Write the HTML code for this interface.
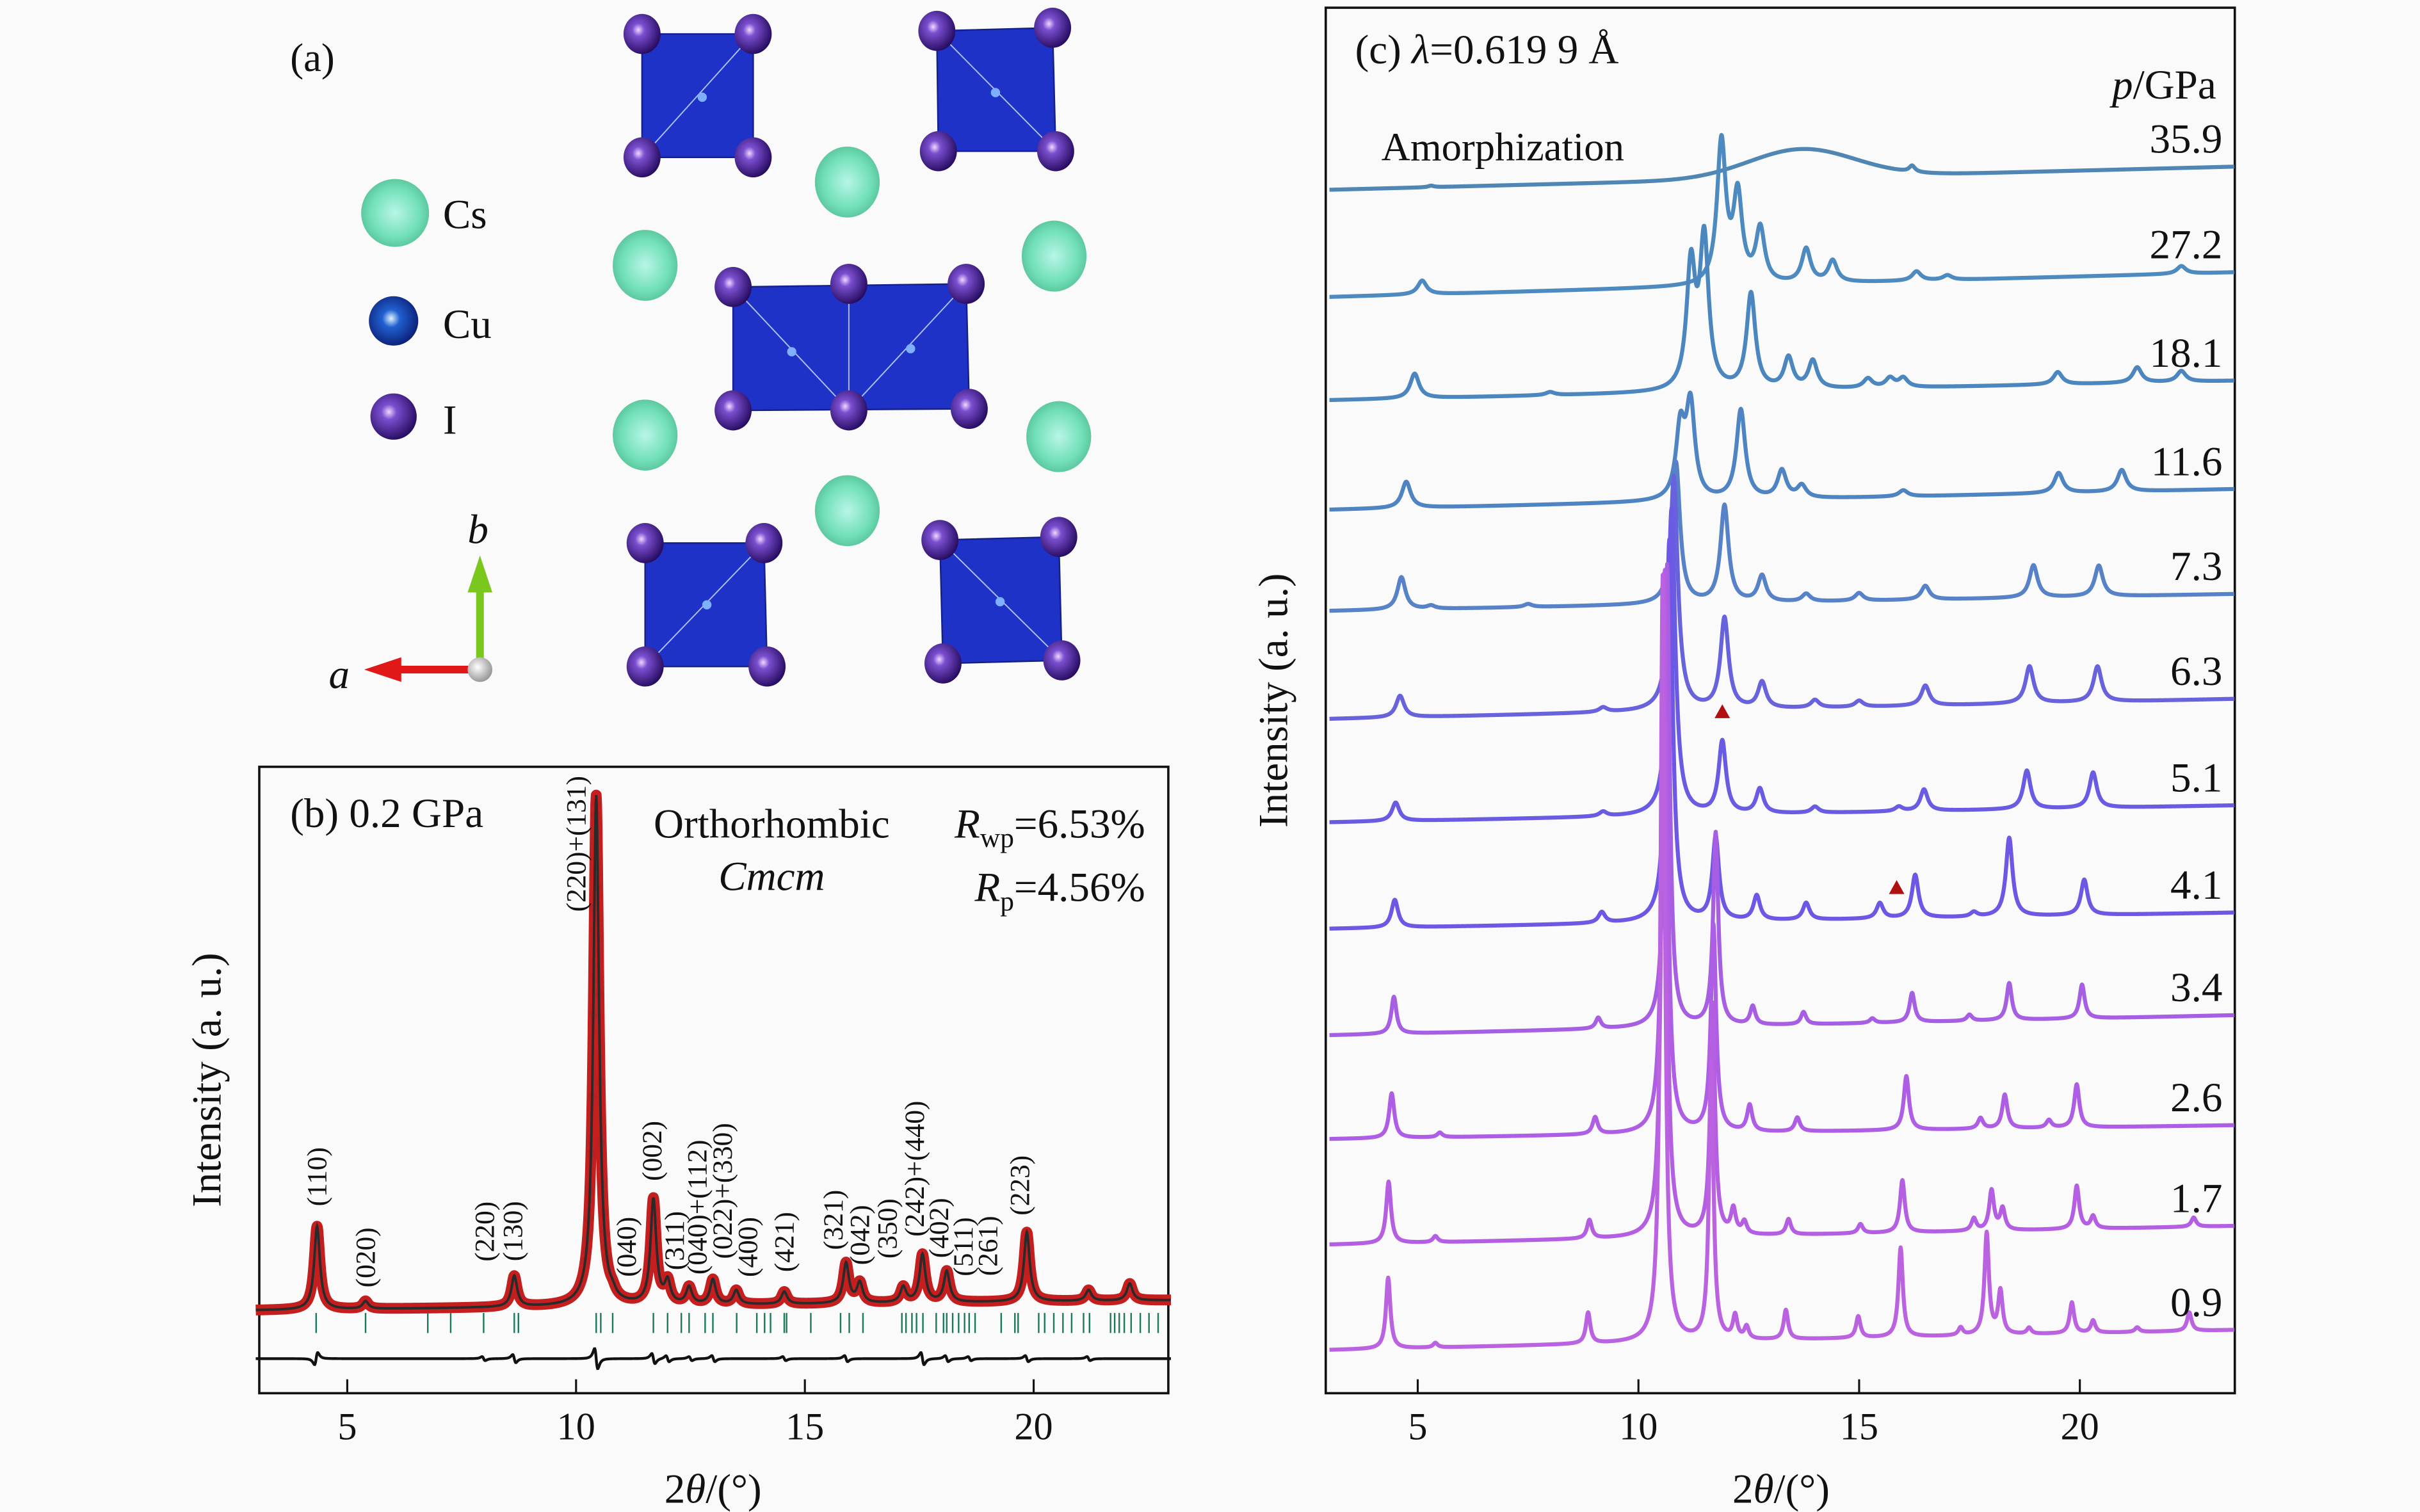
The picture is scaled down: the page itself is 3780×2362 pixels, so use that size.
<!DOCTYPE html>
<html><head><meta charset="utf-8"><style>
html,body{margin:0;padding:0;background:#fafafa;}
svg{display:block;}
text{font-family:"Liberation Serif",serif;fill:#111;}
</style></head><body>
<svg id="fig" xmlns="http://www.w3.org/2000/svg" width="3780" height="2362" viewBox="0 0 1568 980" preserveAspectRatio="none">
<defs>
<radialGradient id="gI" cx="0.4" cy="0.4" r="0.65"><stop offset="0" stop-color="#f0d8ff"/><stop offset="0.25" stop-color="#7b4fd0"/><stop offset="1" stop-color="#22085a"/></radialGradient>
<radialGradient id="gCs" cx="0.5" cy="0.5" r="0.6"><stop offset="0" stop-color="#b8f5e8"/><stop offset="0.6" stop-color="#72e0b8"/><stop offset="1" stop-color="#4fb890"/></radialGradient>
<radialGradient id="gCu" cx="0.45" cy="0.45" r="0.6"><stop offset="0" stop-color="#e0f4ff"/><stop offset="0.3" stop-color="#2060d0"/><stop offset="1" stop-color="#0a1a70"/></radialGradient>
<radialGradient id="gO" cx="0.4" cy="0.4" r="0.6"><stop offset="0" stop-color="#ffffff"/><stop offset="1" stop-color="#999"/></radialGradient>
</defs>
<rect width="1568" height="980" fill="#fafafa"/>

<!-- Panel (a) -->
<g id="panelA">
<text x="188" y="46" font-size="26">(a)</text>
<circle cx="256" cy="138" r="22" fill="url(#gCs)"/>
<text x="287" y="148" font-size="27">Cs</text>
<circle cx="255" cy="208" r="16" fill="url(#gCu)"/>
<text x="287" y="219" font-size="27">Cu</text>
<circle cx="255" cy="270" r="15" fill="url(#gI)"/>
<text x="287" y="281" font-size="27">I</text>
<g>
<line x1="311" y1="434" x2="311" y2="378" stroke="#7ac81e" stroke-width="5"/>
<polygon points="303,384 319,384 311,360" fill="#7ac81e"/>
<line x1="311" y1="434" x2="255" y2="434" stroke="#e01818" stroke-width="5"/>
<polygon points="260,426 260,442 236,434" fill="#e01818"/>
<circle cx="311" cy="434" r="8" fill="url(#gO)"/>
<text x="303" y="352" font-size="27" font-style="italic">b</text>
<text x="213" y="446" font-size="27" font-style="italic">a</text>
</g>
<g id="struct"></g>
</g>

<!-- Panel (b) -->
<g id="panelB">
<rect x="168" y="497" width="589" height="406" fill="none" stroke="#111" stroke-width="1.5"/>
<text x="188" y="536" font-size="27">(b) 0.2 GPa</text>
<text x="500" y="543" font-size="27" text-anchor="middle">Orthorhombic</text>
<text x="500" y="577" font-size="27" text-anchor="middle" font-style="italic">Cmcm</text>
<text x="742" y="543" font-size="27" text-anchor="end"><tspan font-style="italic">R</tspan><tspan font-size="18" dy="6">wp</tspan><tspan dy="-6">=6.53%</tspan></text>
<text x="742" y="584" font-size="27" text-anchor="end"><tspan font-style="italic">R</tspan><tspan font-size="18" dy="6">p</tspan><tspan dy="-6">=4.56%</tspan></text>
<text transform="translate(143,700) rotate(-90)" font-size="27" text-anchor="middle">Intensity (a. u.)</text>
<text x="462" y="974" font-size="27" text-anchor="middle">2<tspan font-style="italic">θ</tspan>/(°)</text>
<g id="bTicks"></g>
<g id="bPlot"></g>
</g>

<!-- Panel (c) -->
<g id="panelC">
<rect x="859" y="5" width="589" height="898" fill="none" stroke="#111" stroke-width="1.5"/>
<text x="878" y="41" font-size="27">(c) <tspan font-style="italic">λ</tspan>=0.619 9 Å</text>
<text x="1436" y="64" font-size="27" text-anchor="end"><tspan font-style="italic">p</tspan>/GPa</text>
<text x="895" y="104" font-size="26">Amorphization</text>
<text transform="translate(834,454) rotate(-90)" font-size="27" text-anchor="middle">Intensity (a. u.)</text>
<text x="1154" y="974" font-size="27" text-anchor="middle">2<tspan font-style="italic">θ</tspan>/(°)</text>
<g id="cTicks"></g>
<g id="cPlot"></g>
</g>
</svg>
<script>
// ---------- Panel (b) data ----------
const bPeakPos = [4.34,5.4,8.65,10.44,10.8,11.69,12.0,12.47,12.99,13.5,14.55,15.9,16.2,17.15,17.57,18.1,19.85,21.2,22.1];
const bPeakInt = [54,5,20,331,3,68,14,11,16,9,8,26,13,10,31,20,45,7,11];
const bBase = [849.3, 842.7];
const bReflections = [4.32,5.40,6.76,7.26,7.98,8.65,8.74,10.44,10.54,10.80,11.69,12.00,12.30,12.47,12.82,12.99,13.51,13.95,14.12,14.25,14.55,14.60,15.13,15.78,15.97,16.27,17.12,17.21,17.34,17.44,17.58,17.87,18.03,18.10,18.23,18.36,18.49,18.59,18.72,19.29,19.59,19.66,20.11,20.24,20.44,20.64,20.83,21.09,21.22,21.68,21.77,21.87,21.98,22.13,22.33,22.52,22.72];
const bDiffPos = [4.32,7.98,8.65,10.44,11.69,12.0,12.5,13.0,14.55,15.9,17.57,18.1,18.6,19.85,21.2];
const bDiffAmp = [-6,2,4,10,5,3,2,3,2,3,6,3,2,3,2];
const bTickVals = [5,10,15,20];
const bLabels = ["(110)","(020)","(220)","(130)","(220)+(131)","(040)","(002)","(311)","(040)+(112)","(022)+(330)","(400)","(421)","(321)","(042)","(350)","(242)+(440)","(402)","(511)","(261)","(223)"];
const bLabelPos = [4.34,5.4,8.0,8.62,10.0,11.1,11.66,12.15,12.65,13.2,13.75,14.55,15.62,16.2,16.8,17.4,17.93,18.46,19.0,19.7];
const bLabelInt = [61,8,24,24,250,13,75,17,14,24,12,15,29,19,23,37,23,11,11,50];

// ---------- Panel (c) data ----------
const pressures = ["35.9","27.2","18.1","11.6","7.3","6.3","5.1","4.1","3.4","2.6","1.7","0.9"];
const offsetsLeft = [123,192.5,259.4,330.4,396,466,533,602,671,738.3,806.7,875];
const offsetsRight = [108,176.5,246.8,317,385,453,522,591.5,658,729.3,794.6,862];
const peakWidth = [1.2,0.12,0.12,0.12,0.11,0.11,0.1,0.09,0.07,0.07,0.065,0.06];
const peaks359Pos = [13.7,16.2,5.3]; const peaks359Int = [18.6,4,1];
const peaks272Pos = [5.1,11.88,12.25,12.76,13.8,14.4,16.3,17.0,22.3]; const peaks272Int = [9,92,56,35,22,14,6,3,5];
const peaks181Pos = [4.93,8.0,11.19,11.49,12.55,13.4,13.95,15.2,15.7,16.0,19.5,21.3,22.3]; const peaks181Int = [16,2,79,96,62,20,18,6,6,6,8,10,7];
const peaks116Pos = [4.74,10.95,11.18,12.32,13.25,13.7,16.0,19.52,20.95]; const peaks116Int = [17,45,60,58,18,8,4,13,14];
const peaks73Pos = [4.63,5.3,7.5,10.85,11.95,12.8,13.8,15.0,16.5,18.95,20.43]; const peaks73Int = [21,2,2,92,63,17,5,5,9,21,20];
const peaks63Pos = [4.6,9.2,10.8,11.95,12.8,14.0,15.0,16.5,18.86,20.4]; const peaks63Int = [14,3,152,59,17,5,4,13,24,23];
const peaks51Pos = [4.5,9.2,10.75,11.9,12.75,14.0,15.9,16.47,18.8,20.3]; const peaks51Int = [12,3,199,47,16,4,3,14,25,23];
const peaks41Pos = [4.48,9.17,10.7,11.75,12.68,13.8,15.47,16.27,17.6,18.4,20.1]; const peaks41Int = [18,7,248,54,16,11,10,28,3,51,23];
const peaks34Pos = [4.46,9.09,10.65,11.75,12.59,13.74,15.3,16.2,17.5,18.4,20.05]; const peaks34Int = [24,7,300,125,12,8,3,19,4,24,22];
const peaks26Pos = [4.41,5.5,9.02,10.6,11.7,12.52,13.6,16.07,17.75,18.3,19.3,19.93]; const peaks26Int = [29,3,11,365,134,17,9,35,7,22,5,28];
const peaks17Pos = [4.34,5.4,8.89,10.58,11.68,12.15,12.4,13.4,15.03,15.98,17.6,18.0,18.25,19.93,20.3,22.58]; const peaks17Int = [40,4,12,430,150,16,8,10,6,34,8,26,14,28,8,6];
const peaks09Pos = [4.33,5.4,8.86,10.55,11.65,12.19,12.45,13.34,14.98,15.94,17.3,17.89,18.2,18.85,19.82,20.3,21.3,22.48]; const peaks09Int = [46,3,20,497,180,15,8,19,14,58,5,66,28,4,20,8,3,12];
const cTickVals = [5,10,15,20];
const triangles = [[11.9,"5.1"],[15.85,"4.1"]];

const NS = "http://www.w3.org/2000/svg";
function mk(tag, attrs, parent){const e=document.createElementNS(NS,tag);for(const k in attrs)e.setAttribute(k,attrs[k]);parent.appendChild(e);return e;}

// ---------- Structure ----------
(function(){
 const g=document.getElementById('struct');
 const octs=[[[416,22],[488,22],[488,102],[416,102]],[[607,20],[682,18],[684,98],[608,98]],[[475,186],[626,184],[628,265],[475,266]],[[418,352],[495,352],[497,432],[418,432]],[[609,350],[686,348],[688,428],[611,430]]];
 octs.forEach((q,i)=>{
  const p=mk('polygon',{points:q.map(a=>a.join(',')).join(' '),fill:'#1f32c8',stroke:'#14208a','stroke-width':1},g);
  
  
 });
 const lines=[[488,22,416,102],[607,20,684,98],[475,186,550,266],[550,266,626,184],[550,186,550,266],[495,352,418,432],[609,350,688,428]];
 lines.forEach(l=>{const e=mk('line',{x1:l[0],y1:l[1],x2:l[2],y2:l[3],stroke:'#b0c0ff','stroke-width':0.8},g);
  
  });
 const cus=[[455,63],[645,60],[513,228],[590,226],[458,392],[648,390]];
 cus.forEach(c=>{const e=mk('circle',{cx:c[0],cy:c[1],r:3,fill:'#7fb0ff'},g);
  
  });
 const cs=[[549,118],[418,172],[683,166],[418,282],[686,283],[549,331]];
 cs.forEach(c=>{const e=mk('ellipse',{cx:c[0],cy:c[1],rx:21,ry:23,fill:'url(#gCs)'},g);
  
  });
 const is=[[416,22],[488,22],[488,102],[416,102],[607,20],[682,18],[684,98],[608,98],[475,186],[550,184],[626,184],[475,266],[550,266],[628,265],[418,352],[495,352],[497,432],[418,432],[609,350],[686,348],[688,428],[611,430]];
 is.forEach(c=>{const e=mk('ellipse',{cx:c[0],cy:c[1],rx:12,ry:13,fill:'url(#gI)'},g);
  
  });
})();

function profile(x,pos,ints,w){let s=0;for(let i=0;i<pos.length;i++){const d=(x-pos[i])/w;s+=ints[i]/(1+d*d);}return s;}

// ---------- Panel (b) ----------
const bx = v => 225 + (v-5)*29.65;
(function(){
 const g=document.getElementById('bPlot'), t=document.getElementById('bTicks');
 const baseY = v => bBase[0] + (bBase[1]-bBase[0])*(v-3)/20;
 let obs=[],calc=[],diff=[];
 for(let v=3; v<=23.0001; v+=0.01){
  const y = baseY(v) - profile(v,bPeakPos,bPeakInt,0.075);
  calc.push(bx(v).toFixed(2)+','+y.toFixed(2));
  obs.push(bx(v).toFixed(2)+','+y.toFixed(2));
  let d=0; for(let i=0;i<bDiffPos.length;i++){const u=(v-bDiffPos[i])/0.06; d+= bDiffAmp[i]*(-2*u)/((1+u*u)*(1+u*u));}
  diff.push(bx(v).toFixed(2)+','+(880.6 - d).toFixed(2));
 }
 const o=mk('polyline',{points:obs.join(' '),fill:'none',stroke:'#c41e1e','stroke-width':7,'stroke-linejoin':'round'},g);
 
 
 for(let v=10.2; v<=10.7; v+=0.025){
  const y = baseY(v) - profile(v,bPeakPos,bPeakInt,0.075);
  const c=mk('circle',{cx:bx(v),cy:y,r:2.8,fill:'#b82020'},g);
  
  
 }
 const c=mk('polyline',{points:calc.join(' '),fill:'none',stroke:'#2a2a2a','stroke-width':1.6},g);
 
 
 const d=mk('polyline',{points:diff.join(' '),fill:'none',stroke:'#111','stroke-width':1.8},g);
 
 
 bReflections.forEach(r=>{const l=mk('line',{x1:bx(r),x2:bx(r),y1:851,y2:864,stroke:'#1a7a5a','stroke-width':1},g);
  
  });
 bLabels.forEach((s,i)=>{const x=bx(bLabelPos[i]); const y=baseY(bLabelPos[i])-bLabelInt[i]-6;
  const e=mk('text',{transform:`translate(${x+6},${y}) rotate(-90)`,'font-size':18},g); e.textContent=s;
  
  });
 bTickVals.forEach(v=>{const l=mk('line',{x1:bx(v),x2:bx(v),y1:894,y2:903,stroke:'#111','stroke-width':1.3},t);
  
  
  const e=mk('text',{x:bx(v),y:933,'font-size':25,'text-anchor':'middle'},t); e.textContent=v;
  
  });
})();

// ---------- Panel (c) ----------
const cx = v => 918.6 + (v-5)*28.6;
(function(){
 const g=document.getElementById('cPlot'), t=document.getElementById('cTicks');
 const posSets=[peaks359Pos,peaks272Pos,peaks181Pos,peaks116Pos,peaks73Pos,peaks63Pos,peaks51Pos,peaks41Pos,peaks34Pos,peaks26Pos,peaks17Pos,peaks09Pos];
 const intSets=[peaks359Int,peaks272Int,peaks181Int,peaks116Int,peaks73Int,peaks63Int,peaks51Int,peaks41Int,peaks34Int,peaks26Int,peaks17Int,peaks09Int];
 const colors=["#4f86b4","#4d8ac0","#4b86bf","#4f84c2","#5782c8","#6862dc","#6a5ce2","#6c58e4","#a65ee2","#ae5ee4","#b45ee2","#ba62e0"];
 pressures.forEach((p,k)=>{
  const yS = (v,val) => offsetsLeft[k] + (offsetsRight[k]-offsetsLeft[k])*(v-3)/20.5 - val;
  let pts=[];
  for(let v=3; v<=23.5001; v+=0.01){
   let val;
   if(k===0){const d=(v-peaks359Pos[0])/peakWidth[0]; val=peaks359Int[0]*Math.exp(-d*d/2)+profile(v,peaks359Pos.slice(1),peaks359Int.slice(1),0.08);}
   else val=profile(v,posSets[k],intSets[k],peakWidth[k]);
   pts.push(cx(v).toFixed(2)+','+yS(v,val).toFixed(2));
  }
  const l=mk('polyline',{points:pts.join(' '),fill:'none',stroke:colors[k],'stroke-width':2.6,'stroke-linejoin':'round'},g);
  
  
  const e=mk('text',{x:1440,y:offsetsRight[k]-9,'font-size':27,'text-anchor':'end'},g); e.textContent=p;
  
  
 });
 triangles.forEach(tr=>{const k=pressures.indexOf(tr[1]);
  const xx=cx(tr[0]); const yy=offsetsLeft[k]+(offsetsRight[k]-offsetsLeft[k])*(tr[0]-3)/20.5 - profile(tr[0],posSets[k],intSets[k],peakWidth[k]) - 18;
  const e=mk('polygon',{points:`${xx-5},${yy+4} ${xx+5},${yy+4} ${xx},${yy-5}`,fill:'#b01010'},g);
  
  });
 cTickVals.forEach(v=>{const l=mk('line',{x1:cx(v),x2:cx(v),y1:894,y2:903,stroke:'#111','stroke-width':1.3},t);
  
  
  const e=mk('text',{x:cx(v),y:933,'font-size':25,'text-anchor':'middle'},t); e.textContent=v;
  
  });
})();
</script>
</body></html>
